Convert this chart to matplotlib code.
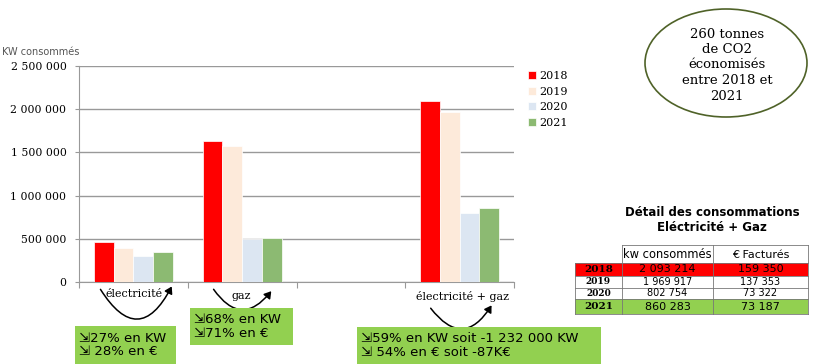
import numpy as np
import matplotlib.pyplot as plt
from matplotlib.patches import Rectangle, Ellipse, FancyArrowPatch

# data
categories = ['électricité', 'gaz', '', 'électricité + gaz']
years = ['2018', '2019', '2020', '2021']
elec = [462000, 396000, 303000, 345000]
gaz = [1631000, 1574000, 500000, 515000]
total = [2093214, 1969917, 802754, 860283]
euros = ['159 350', '137 353', '73 322', '73 187']
kw_labels = ['2 093 214', '1 969 917', '802 754', '860 283']
yticks = [0, 500000, 1000000, 1500000, 2000000, 2500000]
ytick_labels = ['0', '500 000', '1 000 000', '1 500 000', '2 000 000', '2 500 000']
colors = ['#FF0000', '#FDEADA', '#DCE6F2', '#8CBA72']
boxes = [
    ('\u21f227% en KW\n\u21f2 28% en \u20ac', 75, 326, 101, 38),
    ('\u21f268% en KW\n\u21f271% en \u20ac', 190, 308, 103, 37),
    ('\u21f259% en KW soit -1 232 000 KW\n\u21f2 54% en \u20ac soit -87K\u20ac', 357, 327, 244, 37),
]

W, H = 814, 364
SERIF = 'DejaVu Serif'
fig = plt.figure(figsize=(W / 100, H / 100), dpi=100)


def fx(x):
    return x / W


def fy(y):
    return 1 - y / H


ax = fig.add_axes([fx(79), fy(282), fx(514) - fx(79), fy(66) - fy(282)])

series = [[elec[i], gaz[i], 0, total[i]] for i in range(4)]
x = np.arange(len(categories))
bw = 0.182
for i, yr in enumerate(years):
    ax.bar(x + (i - 1.5) * bw, series[i], width=bw, color=colors[i],
           edgecolor='white', linewidth=0.5, label=yr, zorder=3)

ax.set_xlim(-0.5, 3.5)
ax.set_ylim(0, 2500000)
ax.set_yticks(yticks)
ax.set_yticklabels(ytick_labels, family=SERIF, fontsize=7.8)
ax.set_xticks([-0.5, 0.5, 1.5, 2.5, 3.5])
ax.set_xticklabels([])
ax.tick_params(axis='x', length=4, color='#999999')
ax.tick_params(axis='y', length=3, color='#999999', pad=6)
ax.grid(axis='y', color='#999999', linewidth=1, zorder=0)
for s in ['top', 'right']:
    ax.spines[s].set_visible(False)
ax.spines['left'].set_color('#999999')
ax.spines['bottom'].set_color('#999999')

fig.text(fx(2), fy(52), 'KW consommés', fontsize=7, color='#555555', va='center')

# legend
leg = fig.legend(loc='upper left', bbox_to_anchor=(fx(518), fy(61)), frameon=False,
                 prop={'family': SERIF, 'size': 8},
                 handlelength=0.75, handleheight=0.75, handletextpad=0.3, labelspacing=0.5)

# category labels with curved arrows
fig.text(fx(134), fy(294), 'électricité', family=SERIF, fontsize=8, ha='center', va='center')
fig.text(fx(241), fy(296), 'gaz', family=SERIF, fontsize=8, ha='center', va='center')
fig.text(fx(462), fy(296), 'électricité + gaz', family=SERIF, fontsize=8, ha='center', va='center')
arcs = [((99, 287), (173, 284), 0.9), ((212, 287), (273, 289), 0.7), ((429, 306), (493, 303), 0.75)]
for (x0, y0), (x1, y1), rad in arcs:
    fig.patches.append(FancyArrowPatch((fx(x0), fy(y0)), (fx(x1), fy(y1)), transform=fig.transFigure,
                                       connectionstyle=f'arc3,rad={rad}', arrowstyle='-|>,head_length=4,head_width=2.5',
                                       color='black', linewidth=1.1))

# green boxes
for txt, bx, by, bwid, bh in boxes:
    fig.patches.append(Rectangle((fx(bx), fy(by + bh)), bwid / W, bh / H, transform=fig.transFigure,
                                 facecolor='#92D050', edgecolor='none'))
    fig.text(fx(bx + 4), fy(by + bh / 2), txt, fontsize=9.5, va='center', ha='left', linespacing=1.05,
             family=['DejaVu Sans'])

# CO2 ellipse
fig.patches.append(Ellipse((fx(726), fy(63)), 162 / W, 108 / H, transform=fig.transFigure,
                           facecolor='white', edgecolor='#4F6228', linewidth=1.2))
fig.text(fx(727), fy(65), '260 tonnes\nde CO2\néconomisés\nentre 2018 et\n2021', family=SERIF,
         fontsize=9.5, ha='center', va='center', linespacing=1.25)

# table
fig.text(fx(712), fy(220), 'Détail des consommations\nEléctricité + Gaz', fontsize=8.5, weight='bold',
         ha='center', va='center', linespacing=1.15)
cols = [575, 622, 713, 808]
rows = [245, 263, 276, 288, 299, 314]
row_bg = ['#FF0000', 'white', 'white', '#92D050']
for r in range(4):
    fig.patches.append(Rectangle((fx(cols[0]), fy(rows[r + 2])), (cols[3] - cols[0]) / W,
                                 (rows[r + 2] - rows[r + 1]) / H, transform=fig.transFigure,
                                 facecolor=row_bg[r], edgecolor='none'))
lc = '#777777'
for i, yy in enumerate(rows):
    x0 = cols[1] if i == 0 else cols[0]
    fig.add_artist(plt.Line2D([fx(x0), fx(cols[3])], [fy(yy), fy(yy)], color=lc, linewidth=0.6))
for i, xx in enumerate(cols):
    y0 = rows[1] if i == 0 else rows[0]
    fig.add_artist(plt.Line2D([fx(xx), fx(xx)], [fy(y0), fy(rows[-1])], color=lc, linewidth=0.6))
fig.text(fx((cols[1] + cols[2]) / 2), fy((rows[0] + rows[1]) / 2 + 1), 'kw consommés', fontsize=8.3,
         ha='center', va='center')
fig.text(fx((cols[2] + cols[3]) / 2), fy((rows[0] + rows[1]) / 2 + 1), '\u20ac Facturés', fontsize=8,
         ha='center', va='center')
for r in range(4):
    yc = fy((rows[r + 1] + rows[r + 2]) / 2)
    big = 8 if r in (0, 3) else 7
    fig.text(fx((cols[0] + cols[1]) / 2), yc, years[r], fontsize=big - 0.5, weight='bold',
             family=SERIF, ha='center', va='center')
    fig.text(fx((cols[1] + cols[2]) / 2), yc, kw_labels[r], fontsize=big, ha='center', va='center')
    fig.text(fx((cols[2] + cols[3]) / 2), yc, euros[r], fontsize=big, ha='center', va='center')

fig.savefig('out.png', dpi=100)
